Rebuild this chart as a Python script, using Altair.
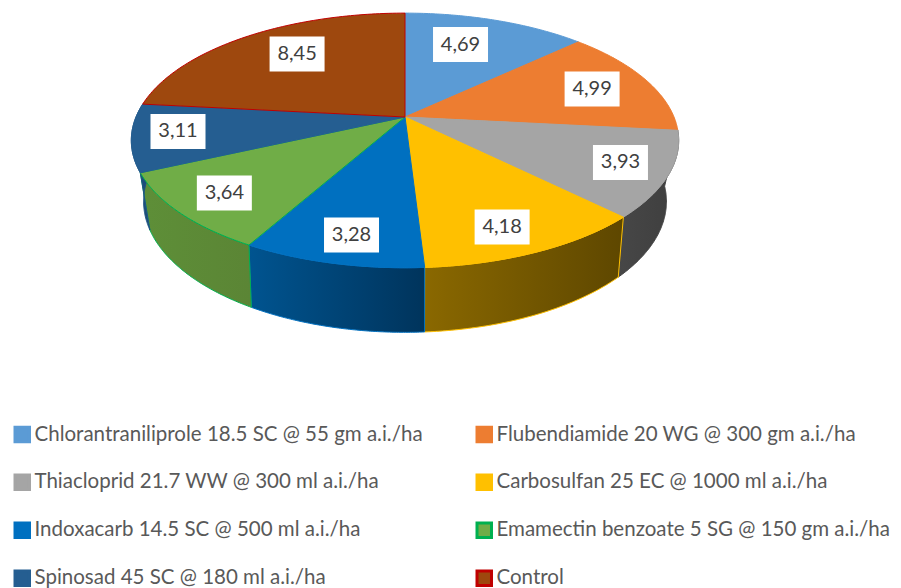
import numpy as np
import pandas as pd
import altair as alt

TREATMENTS = [
    "Chlorantraniliprole 18.5 SC @ 55 gm a.i./ha",
    "Flubendiamide 20 WG @ 300 gm a.i./ha",
    "Thiacloprid 21.7 WW @ 300 ml a.i./ha",
    "Carbosulfan 25 EC @ 1000 ml a.i./ha",
    "Indoxacarb 14.5 SC @ 500 ml a.i./ha",
    "Emamectin benzoate 5 SG @ 150 gm a.i./ha",
    "Spinosad 45 SC @ 180 ml a.i./ha",
    "Control",
]
VALUES = [4.69, 4.99, 3.93, 4.18, 3.28, 3.64, 3.11, 8.45]
LABELS = ["4,69", "4,99", "3,93", "4,18", "3,28", "3,64", "3,11", "8,45"]
FILLS = ["#5B9BD5", "#ED7D31", "#A5A5A5", "#FFC000", "#0070C0", "#70AD47", "#255E91", "#9E480E"]
STROKES = ["#5B9BD5", "#ED7D31", "#A5A5A5", "#FFC000", "#0070C0", "#00B050", "#255E91", "#C00000"]
# Label anchors on the unit disc (across, depth)
LABEL_U = [0.2315, 0.726, 0.75, 0.31, -0.169, -0.603, -0.826, -0.443]
LABEL_V = [0.661, 0.238, -0.346, -0.768, -0.815, -0.555, -0.115, 0.566]
# Which slices show a side wall, with wall colours (left, right, edge)
SIDE_STYLE = {
    2: ("#474747", "#3E3E3E", "#444444"),
    3: ("#8A6800", "#5E4700", "#FFC000"),
    4: ("#005490", "#00345C", "#0070C0"),
    5: ("#5E8F38", "#5B8535", "#00B050"),
    6: ("#1E5283", "#1C4870", "#1F5585"),
}

CX, CY = 405.0, 117.0
TOP = dict(A=269.0, B=123.0, k=0.184, shift=0.0)
BOTTOM = dict(A=255.0, B=124.5, k=0.22, shift=55.7)


def project(u, v, A, B, k, shift):
    w = 1 + k * v
    return CX + A * u / w, CY + shift - B * v / w


edges = np.concatenate([[0.0], np.cumsum(VALUES)]) / sum(VALUES) * 2 * np.pi


def arc(i, n=80):
    t = np.linspace(edges[i], edges[i + 1], n)
    return np.sin(t), np.cos(t)


def top_frame(i):
    u, v = arc(i)
    x, y = project(u, v, **TOP)
    return pd.DataFrame({"px": np.r_[CX, x], "py": np.r_[CY, y], "seq": range(len(x) + 1)})


def side_frame(i):
    u, v = arc(i)
    x1, y1 = project(u, v, **TOP)
    x2, y2 = project(u, v, **BOTTOM)
    return pd.DataFrame({"px": np.r_[x1, x2[::-1]], "py": np.r_[y1, y2[::-1]], "seq": range(2 * len(x1))})


XS = alt.Scale(domain=[8, 893], nice=False, zero=False)
YS = alt.Scale(domain=[580, 8], nice=False, zero=False)
X = alt.X("px:Q", scale=XS, axis=None)
Y = alt.Y("py:Q", scale=YS, axis=None)


def poly(df, fill, stroke, width=1.0):
    return (
        alt.Chart(df)
        .mark_line(fill=fill, stroke=stroke, strokeWidth=width, interpolate="linear-closed")
        .encode(x=X, y=Y, order=alt.Order("seq:Q"))
    )


layers = []

legend = alt.Legend(
    title=None,
    orient="none",
    legendX=4,
    legendY=416,
    direction="horizontal",
    columns=2,
    columnPadding=48,
    rowPadding=21,
    symbolType="square",
    symbolSize=210,
    symbolStrokeWidth=3,
    symbolOpacity=1,
    labelFont="Lato",
    labelFontSize=20.5,
    labelColor="#595959",
    labelLimit=480,
    labelOffset=2,
)
legend_df = pd.DataFrame({"treatment": TREATMENTS, "px": CX, "py": CY})
layers.append(
    alt.Chart(legend_df)
    .mark_square(size=1, filled=True)
    .encode(
        x=X,
        y=Y,
        fill=alt.Fill("treatment:N", sort=TREATMENTS, scale=alt.Scale(domain=TREATMENTS, range=FILLS), legend=legend),
        stroke=alt.Stroke("treatment:N", sort=TREATMENTS, scale=alt.Scale(domain=TREATMENTS, range=STROKES), legend=legend),
    )
)

for i, (left, right, edge) in SIDE_STYLE.items():
    grad = alt.LinearGradient(
        gradient="linear", x1=0, x2=1, y1=0, y2=0,
        stops=[alt.GradientStop(offset=0, color=left), alt.GradientStop(offset=1, color=right)],
    )
    layers.append(poly(side_frame(i), grad, edge))

for i in range(len(VALUES)):
    layers.append(poly(top_frame(i), FILLS[i], STROKES[i], 1.0))

lu, lv = np.array(LABEL_U), np.array(LABEL_V)
lx, ly = project(lu, lv, **TOP)
label_df = pd.DataFrame({"px": lx, "py": ly, "label": LABELS})
layers.append(
    alt.Chart(label_df).mark_rect(width=55, height=35, color="white").encode(x=X, y=Y)
)
layers.append(
    alt.Chart(label_df)
    .mark_text(font="Lato", fontSize=20, color="#404040", align="center", baseline="middle")
    .encode(x=X, y=Y, text="label:N")
)

chart = (
    alt.layer(*layers)
    .properties(width=885, height=572, padding=0, background="white")
    .configure_view(stroke=None)
)

chart.save("out.html", embed_options={"renderer": "svg", "actions": False})
